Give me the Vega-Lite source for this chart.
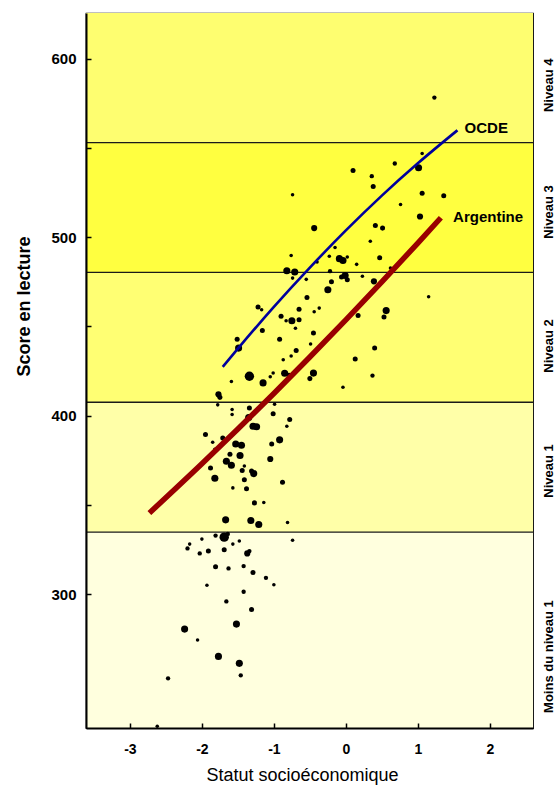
{
  "$schema": "https://vega.github.io/schema/vega-lite/v6.json",
  "width": 447,
  "height": 715,
  "autosize": {"type": "none"},
  "padding": {"left": 86, "top": 13, "right": 25, "bottom": 57},
  "background": "white",
  "config": {
    "font": "Liberation Sans",
    "view": {"stroke": "#000", "strokeWidth": 1.2},
    "axis": {
      "grid": false,
      "tickSize": -5, "tickColor": "#000", "tickWidth": 1.5,
      "domainColor": "#000", "domainWidth": 2,
      "labelColor": "#000", "labelFontWeight": "bold", "labelOverlap": false,
      "titleColor": "#000", "titleFontSize": 18
    },
    "axisX": {
      "labelPadding": 19, "labelFontSize": 14, "labelFlush": false,
      "titleFontWeight": "normal", "titlePadding": 10, "titleX": 216
    },
    "axisY": {
      "labelPadding": 15, "labelFontSize": 15,
      "titleFontWeight": "bold", "titlePadding": 17, "titleY": 293
    }
  },
  "datasets": {
    "niveaux": [
      {"niveau": "Moins du niveau 1", "lo": 200, "hi": 334.75},
      {"niveau": "Niveau 1", "lo": 334.75, "hi": 407.47},
      {"niveau": "Niveau 2", "lo": 407.47, "hi": 480.18},
      {"niveau": "Niveau 3", "lo": 480.18, "hi": 552.89},
      {"niveau": "Niveau 4", "lo": 552.89, "hi": 640}
    ],
    "seuils": [
      {"seuil": 334.75}, {"seuil": 407.47}, {"seuil": 480.18}, {"seuil": 552.89}
    ],
    "etiquettes_niveaux": [
      {"niveau": "Niveau 4", "pos": 585},
      {"niveau": "Niveau 3", "pos": 514},
      {"niveau": "Niveau 2", "pos": 439},
      {"niveau": "Niveau 1", "pos": 369},
      {"niveau": "Moins du niveau 1", "pos": 265}
    ],
    "ecoles": [
      {"sse": -0.74, "score": 523.7, "w": 1},
      {"sse": -0.76, "score": 489.7, "w": 1},
      {"sse": -0.82, "score": 481.1, "w": 4},
      {"sse": -0.71, "score": 480.4, "w": 4},
      {"sse": -0.74, "score": 477.0, "w": 1},
      {"sse": -0.55, "score": 476.3, "w": 1},
      {"sse": -0.54, "score": 466.2, "w": 2},
      {"sse": 1.23, "score": 578.1, "w": 1.5},
      {"sse": 1.06, "score": 546.8, "w": 1},
      {"sse": 0.68, "score": 541.2, "w": 1.5},
      {"sse": 1.01, "score": 538.8, "w": 4},
      {"sse": 0.10, "score": 537.3, "w": 2},
      {"sse": 0.36, "score": 534.1, "w": 1.5},
      {"sse": 0.38, "score": 528.3, "w": 2},
      {"sse": 1.06, "score": 524.6, "w": 2},
      {"sse": 1.36, "score": 523.1, "w": 2},
      {"sse": 0.76, "score": 518.2, "w": 1},
      {"sse": 1.03, "score": 511.5, "w": 3},
      {"sse": -0.44, "score": 505.0, "w": 3},
      {"sse": 0.41, "score": 506.5, "w": 2},
      {"sse": 0.51, "score": 505.0, "w": 2},
      {"sse": 0.34, "score": 497.7, "w": 1},
      {"sse": -0.15, "score": 494.2, "w": 1},
      {"sse": -0.23, "score": 489.3, "w": 1},
      {"sse": -0.09, "score": 487.9, "w": 4},
      {"sse": -0.04, "score": 486.9, "w": 4},
      {"sse": 0.02, "score": 488.8, "w": 1},
      {"sse": 0.47, "score": 488.4, "w": 2},
      {"sse": 0.15, "score": 484.7, "w": 1},
      {"sse": -0.40, "score": 486.0, "w": 1},
      {"sse": -0.22, "score": 480.9, "w": 1.5},
      {"sse": -0.01, "score": 478.5, "w": 4},
      {"sse": 0.02, "score": 476.1, "w": 2},
      {"sse": -0.06, "score": 477.6, "w": 2},
      {"sse": 0.23, "score": 478.0, "w": 1},
      {"sse": -0.20, "score": 475.0, "w": 2},
      {"sse": 0.39, "score": 475.2, "w": 3},
      {"sse": 0.62, "score": 482.6, "w": 1},
      {"sse": -0.25, "score": 470.5, "w": 4},
      {"sse": 1.15, "score": 466.6, "w": 1},
      {"sse": -0.44, "score": 458.2, "w": 1},
      {"sse": -0.37, "score": 460.2, "w": 1},
      {"sse": 0.56, "score": 458.8, "w": 4},
      {"sse": 0.53, "score": 455.2, "w": 2},
      {"sse": 0.17, "score": 456.0, "w": 2},
      {"sse": -0.45, "score": 446.2, "w": 2},
      {"sse": -0.49, "score": 440.1, "w": 1},
      {"sse": 0.40, "score": 437.8, "w": 2},
      {"sse": 0.13, "score": 431.7, "w": 2},
      {"sse": -0.45, "score": 423.8, "w": 4},
      {"sse": -0.50, "score": 420.7, "w": 2},
      {"sse": 0.37, "score": 422.4, "w": 1.5},
      {"sse": -0.04, "score": 415.9, "w": 1},
      {"sse": -1.22, "score": 460.8, "w": 2},
      {"sse": -1.17, "score": 459.3, "w": 1},
      {"sse": -0.65, "score": 459.5, "w": 2},
      {"sse": -0.90, "score": 455.6, "w": 2},
      {"sse": -0.83, "score": 453.1, "w": 1},
      {"sse": -0.75, "score": 453.1, "w": 4},
      {"sse": -0.65, "score": 453.7, "w": 2},
      {"sse": -0.70, "score": 448.9, "w": 1},
      {"sse": -1.16, "score": 447.7, "w": 2},
      {"sse": -0.92, "score": 442.7, "w": 2},
      {"sse": -1.51, "score": 442.8, "w": 2},
      {"sse": -1.49, "score": 437.8, "w": 4},
      {"sse": -0.69, "score": 436.5, "w": 2},
      {"sse": -0.76, "score": 433.4, "w": 1},
      {"sse": -0.87, "score": 431.3, "w": 1},
      {"sse": -1.34, "score": 422.0, "w": 7},
      {"sse": -1.15, "score": 418.3, "w": 4},
      {"sse": -1.59, "score": 419.1, "w": 1},
      {"sse": -1.05, "score": 421.8, "w": 1},
      {"sse": -1.01, "score": 423.8, "w": 1},
      {"sse": -0.85, "score": 423.7, "w": 4},
      {"sse": -0.79, "score": 422.6, "w": 2},
      {"sse": -1.77, "score": 411.9, "w": 3},
      {"sse": -1.75, "score": 410.2, "w": 2},
      {"sse": -1.78, "score": 406.0, "w": 1},
      {"sse": -1.58, "score": 403.4, "w": 1},
      {"sse": -1.58, "score": 400.6, "w": 1},
      {"sse": -1.34, "score": 404.3, "w": 2},
      {"sse": -1.01, "score": 401.0, "w": 2},
      {"sse": -0.99, "score": 406.3, "w": 1},
      {"sse": -1.35, "score": 398.9, "w": 4},
      {"sse": -0.78, "score": 397.8, "w": 2},
      {"sse": -0.82, "score": 394.0, "w": 1},
      {"sse": -1.29, "score": 394.0, "w": 4},
      {"sse": -1.24, "score": 393.7, "w": 4},
      {"sse": -1.95, "score": 389.4, "w": 2},
      {"sse": -1.71, "score": 387.5, "w": 2},
      {"sse": -1.85, "score": 385.1, "w": 1},
      {"sse": -1.82, "score": 381.1, "w": 1},
      {"sse": -0.92, "score": 386.4, "w": 4},
      {"sse": -1.53, "score": 384.1, "w": 4},
      {"sse": -1.45, "score": 383.4, "w": 4},
      {"sse": -1.03, "score": 384.1, "w": 2},
      {"sse": -1.61, "score": 378.3, "w": 2},
      {"sse": -1.47, "score": 377.6, "w": 4},
      {"sse": -1.05, "score": 375.7, "w": 3},
      {"sse": -1.66, "score": 374.4, "w": 4},
      {"sse": -1.59, "score": 372.2, "w": 4},
      {"sse": -1.41, "score": 371.8, "w": 1},
      {"sse": -1.88, "score": 370.7, "w": 2},
      {"sse": -1.44, "score": 369.2, "w": 2},
      {"sse": -1.31, "score": 369.0, "w": 2},
      {"sse": -1.28, "score": 367.5, "w": 4},
      {"sse": -1.82, "score": 364.9, "w": 4},
      {"sse": -1.41, "score": 364.0, "w": 2},
      {"sse": -0.88, "score": 362.7, "w": 2},
      {"sse": -1.57, "score": 359.5, "w": 1},
      {"sse": -1.38, "score": 359.0, "w": 2},
      {"sse": -1.27, "score": 351.1, "w": 2},
      {"sse": -1.14, "score": 351.3, "w": 1},
      {"sse": -1.67, "score": 341.6, "w": 4},
      {"sse": -1.32, "score": 341.2, "w": 4},
      {"sse": -1.21, "score": 339.0, "w": 4},
      {"sse": -0.81, "score": 340.1, "w": 1},
      {"sse": -0.74, "score": 330.2, "w": 1},
      {"sse": -1.69, "score": 331.9, "w": 7},
      {"sse": -1.64, "score": 333.7, "w": 1.5},
      {"sse": -1.81, "score": 332.8, "w": 1.5},
      {"sse": -2.00, "score": 330.8, "w": 1},
      {"sse": -2.17, "score": 328.0, "w": 1},
      {"sse": -2.20, "score": 325.6, "w": 1.5},
      {"sse": -2.03, "score": 322.8, "w": 1.5},
      {"sse": -1.91, "score": 324.1, "w": 2},
      {"sse": -1.69, "score": 324.8, "w": 2},
      {"sse": -1.57, "score": 328.0, "w": 1},
      {"sse": -1.48, "score": 329.7, "w": 1},
      {"sse": -1.37, "score": 322.8, "w": 3},
      {"sse": -1.34, "score": 324.1, "w": 1.5},
      {"sse": -1.81, "score": 315.3, "w": 2},
      {"sse": -1.63, "score": 314.4, "w": 1.5},
      {"sse": -1.42, "score": 315.7, "w": 1.5},
      {"sse": -1.29, "score": 312.1, "w": 2},
      {"sse": -1.11, "score": 309.1, "w": 1.5},
      {"sse": -1.00, "score": 305.2, "w": 1},
      {"sse": -1.93, "score": 305.0, "w": 1},
      {"sse": -1.42, "score": 301.3, "w": 1.5},
      {"sse": -1.66, "score": 295.9, "w": 1.5},
      {"sse": -1.31, "score": 291.4, "w": 2},
      {"sse": -1.52, "score": 283.2, "w": 4},
      {"sse": -2.24, "score": 280.4, "w": 4},
      {"sse": -2.06, "score": 274.3, "w": 1},
      {"sse": -1.77, "score": 265.1, "w": 4},
      {"sse": -1.48, "score": 261.2, "w": 4},
      {"sse": -1.46, "score": 254.5, "w": 1.5},
      {"sse": -2.47, "score": 252.8, "w": 1.5},
      {"sse": -2.62, "score": 226.0, "w": 1}
    ],
    "courbes": [
      {"serie": "OCDE", "sse": -1.71, "score": 427.3},
      {"serie": "OCDE", "sse": -1.5, "score": 437.5},
      {"serie": "OCDE", "sse": -1.0, "score": 460.9},
      {"serie": "OCDE", "sse": -0.5, "score": 482.9},
      {"serie": "OCDE", "sse": 0.0, "score": 503.7},
      {"serie": "OCDE", "sse": 0.5, "score": 523.2},
      {"serie": "OCDE", "sse": 1.0, "score": 541.3},
      {"serie": "OCDE", "sse": 1.55, "score": 559.8},
      {"serie": "Argentine", "sse": -2.73, "score": 345.4},
      {"serie": "Argentine", "sse": -2.0, "score": 373.0},
      {"serie": "Argentine", "sse": -1.5, "score": 392.5},
      {"serie": "Argentine", "sse": -1.0, "score": 412.4},
      {"serie": "Argentine", "sse": -0.5, "score": 432.8},
      {"serie": "Argentine", "sse": 0.0, "score": 453.6},
      {"serie": "Argentine", "sse": 0.5, "score": 474.9},
      {"serie": "Argentine", "sse": 1.0, "score": 496.6},
      {"serie": "Argentine", "sse": 1.32, "score": 510.8}
    ],
    "etiquettes_courbes": [
      {"serie": "OCDE", "sse": 1.65, "score": 561},
      {"serie": "Argentine", "sse": 1.49, "score": 511.5}
    ]
  },
  "layer": [
    {
      "data": {"name": "ecoles"},
      "mark": {"type": "circle", "opacity": 0},
      "encoding": {
        "x": {
          "field": "sse", "type": "quantitative",
          "scale": {"domain": [-3.61, 2.6], "nice": false, "zero": false},
          "axis": {"title": "Statut socioéconomique", "zindex": 1, "values": [-3, -2, -1, 0, 1, 2], "labelExpr": "toString(datum.value)"}
        },
        "y": {
          "field": "score", "type": "quantitative",
          "scale": {"domain": [225, 625.5], "nice": false, "zero": false},
          "axis": {"title": "Score en lecture", "zindex": 1, "values": [300, 350, 400, 450, 500, 550, 600], "labelExpr": "datum.value % 100 === 0 ? toString(datum.value) : ''"}
        }
      }
    },
    {
      "data": {"name": "niveaux"},
      "mark": {"type": "rect", "clip": true},
      "encoding": {
        "y": {"field": "lo", "type": "quantitative", "scale": {"domain": [225, 625.5], "nice": false, "zero": false}, "axis": {"title": "Score en lecture", "zindex": 1, "values": [300, 350, 400, 450, 500, 550, 600], "labelExpr": "datum.value % 100 === 0 ? toString(datum.value) : ''"}},
        "y2": {"field": "hi"},
        "color": {
          "field": "niveau", "type": "nominal", "legend": null,
          "scale": {
            "domain": ["Moins du niveau 1", "Niveau 1", "Niveau 2", "Niveau 3", "Niveau 4"],
            "range": ["#FFFFDE", "#FFFFA8", "#FFFF73", "#FFFF40", "#FEFE70"]
          }
        }
      }
    },
    {
      "data": {"name": "seuils"},
      "mark": {"type": "rule", "color": "#1a1a1a", "strokeWidth": 1.3},
      "encoding": {
        "y": {"field": "seuil", "type": "quantitative", "scale": {"domain": [225, 625.5], "nice": false, "zero": false}, "axis": {"title": "Score en lecture", "zindex": 1, "values": [300, 350, 400, 450, 500, 550, 600], "labelExpr": "datum.value % 100 === 0 ? toString(datum.value) : ''"}}
      }
    },
    {
      "data": {"name": "ecoles"},
      "mark": {"type": "circle", "color": "#000", "opacity": 1},
      "encoding": {
        "x": {"field": "sse", "type": "quantitative", "scale": {"domain": [-3.61, 2.6], "nice": false, "zero": false}, "axis": {"title": "Statut socioéconomique", "zindex": 1, "values": [-3, -2, -1, 0, 1, 2], "labelExpr": "toString(datum.value)"}},
        "y": {"field": "score", "type": "quantitative", "scale": {"domain": [225, 625.5], "nice": false, "zero": false}, "axis": {"title": "Score en lecture", "zindex": 1, "values": [300, 350, 400, 450, 500, 550, 600], "labelExpr": "datum.value % 100 === 0 ? toString(datum.value) : ''"}},
        "size": {"field": "w", "type": "quantitative", "legend": null, "scale": {"domain": [0, 7], "range": [0, 88], "zero": true}}
      }
    },
    {
      "data": {"name": "courbes"},
      "transform": [{"filter": "datum.serie === 'Argentine'"}],
      "mark": {"type": "line", "color": "#990000", "strokeWidth": 5.5, "interpolate": "monotone", "strokeCap": "butt"},
      "encoding": {
        "x": {"field": "sse", "type": "quantitative", "scale": {"domain": [-3.61, 2.6], "nice": false, "zero": false}, "axis": {"title": "Statut socioéconomique", "zindex": 1, "values": [-3, -2, -1, 0, 1, 2], "labelExpr": "toString(datum.value)"}},
        "y": {"field": "score", "type": "quantitative", "scale": {"domain": [225, 625.5], "nice": false, "zero": false}, "axis": {"title": "Score en lecture", "zindex": 1, "values": [300, 350, 400, 450, 500, 550, 600], "labelExpr": "datum.value % 100 === 0 ? toString(datum.value) : ''"}}
      }
    },
    {
      "data": {"name": "courbes"},
      "transform": [{"filter": "datum.serie === 'OCDE'"}],
      "mark": {"type": "line", "color": "#00009C", "strokeWidth": 2.6, "interpolate": "monotone", "strokeCap": "butt"},
      "encoding": {
        "x": {"field": "sse", "type": "quantitative", "scale": {"domain": [-3.61, 2.6], "nice": false, "zero": false}, "axis": {"title": "Statut socioéconomique", "zindex": 1, "values": [-3, -2, -1, 0, 1, 2], "labelExpr": "toString(datum.value)"}},
        "y": {"field": "score", "type": "quantitative", "scale": {"domain": [225, 625.5], "nice": false, "zero": false}, "axis": {"title": "Score en lecture", "zindex": 1, "values": [300, 350, 400, 450, 500, 550, 600], "labelExpr": "datum.value % 100 === 0 ? toString(datum.value) : ''"}}
      }
    },
    {
      "data": {"name": "etiquettes_courbes"},
      "mark": {"type": "text", "align": "left", "baseline": "middle", "fontSize": 15, "fontWeight": "bold", "color": "#000"},
      "encoding": {
        "x": {"field": "sse", "type": "quantitative", "scale": {"domain": [-3.61, 2.6], "nice": false, "zero": false}, "axis": {"title": "Statut socioéconomique", "zindex": 1, "values": [-3, -2, -1, 0, 1, 2], "labelExpr": "toString(datum.value)"}},
        "y": {"field": "score", "type": "quantitative", "scale": {"domain": [225, 625.5], "nice": false, "zero": false}, "axis": {"title": "Score en lecture", "zindex": 1, "values": [300, 350, 400, 450, 500, 550, 600], "labelExpr": "datum.value % 100 === 0 ? toString(datum.value) : ''"}},
        "text": {"field": "serie"}
      }
    },
    {
      "data": {"name": "etiquettes_niveaux"},
      "mark": {"type": "text", "align": "center", "baseline": "middle", "angle": 270, "fontSize": 13, "fontWeight": "bold", "color": "#000"},
      "encoding": {
        "x": {"datum": 2.82, "type": "quantitative", "scale": {"domain": [-3.61, 2.6], "nice": false, "zero": false}, "axis": {"title": "Statut socioéconomique", "zindex": 1, "values": [-3, -2, -1, 0, 1, 2], "labelExpr": "toString(datum.value)"}},
        "y": {"field": "pos", "type": "quantitative", "scale": {"domain": [225, 625.5], "nice": false, "zero": false}, "axis": {"title": "Score en lecture", "zindex": 1, "values": [300, 350, 400, 450, 500, 550, 600], "labelExpr": "datum.value % 100 === 0 ? toString(datum.value) : ''"}},
        "text": {"field": "niveau"}
      }
    }
  ]
}
